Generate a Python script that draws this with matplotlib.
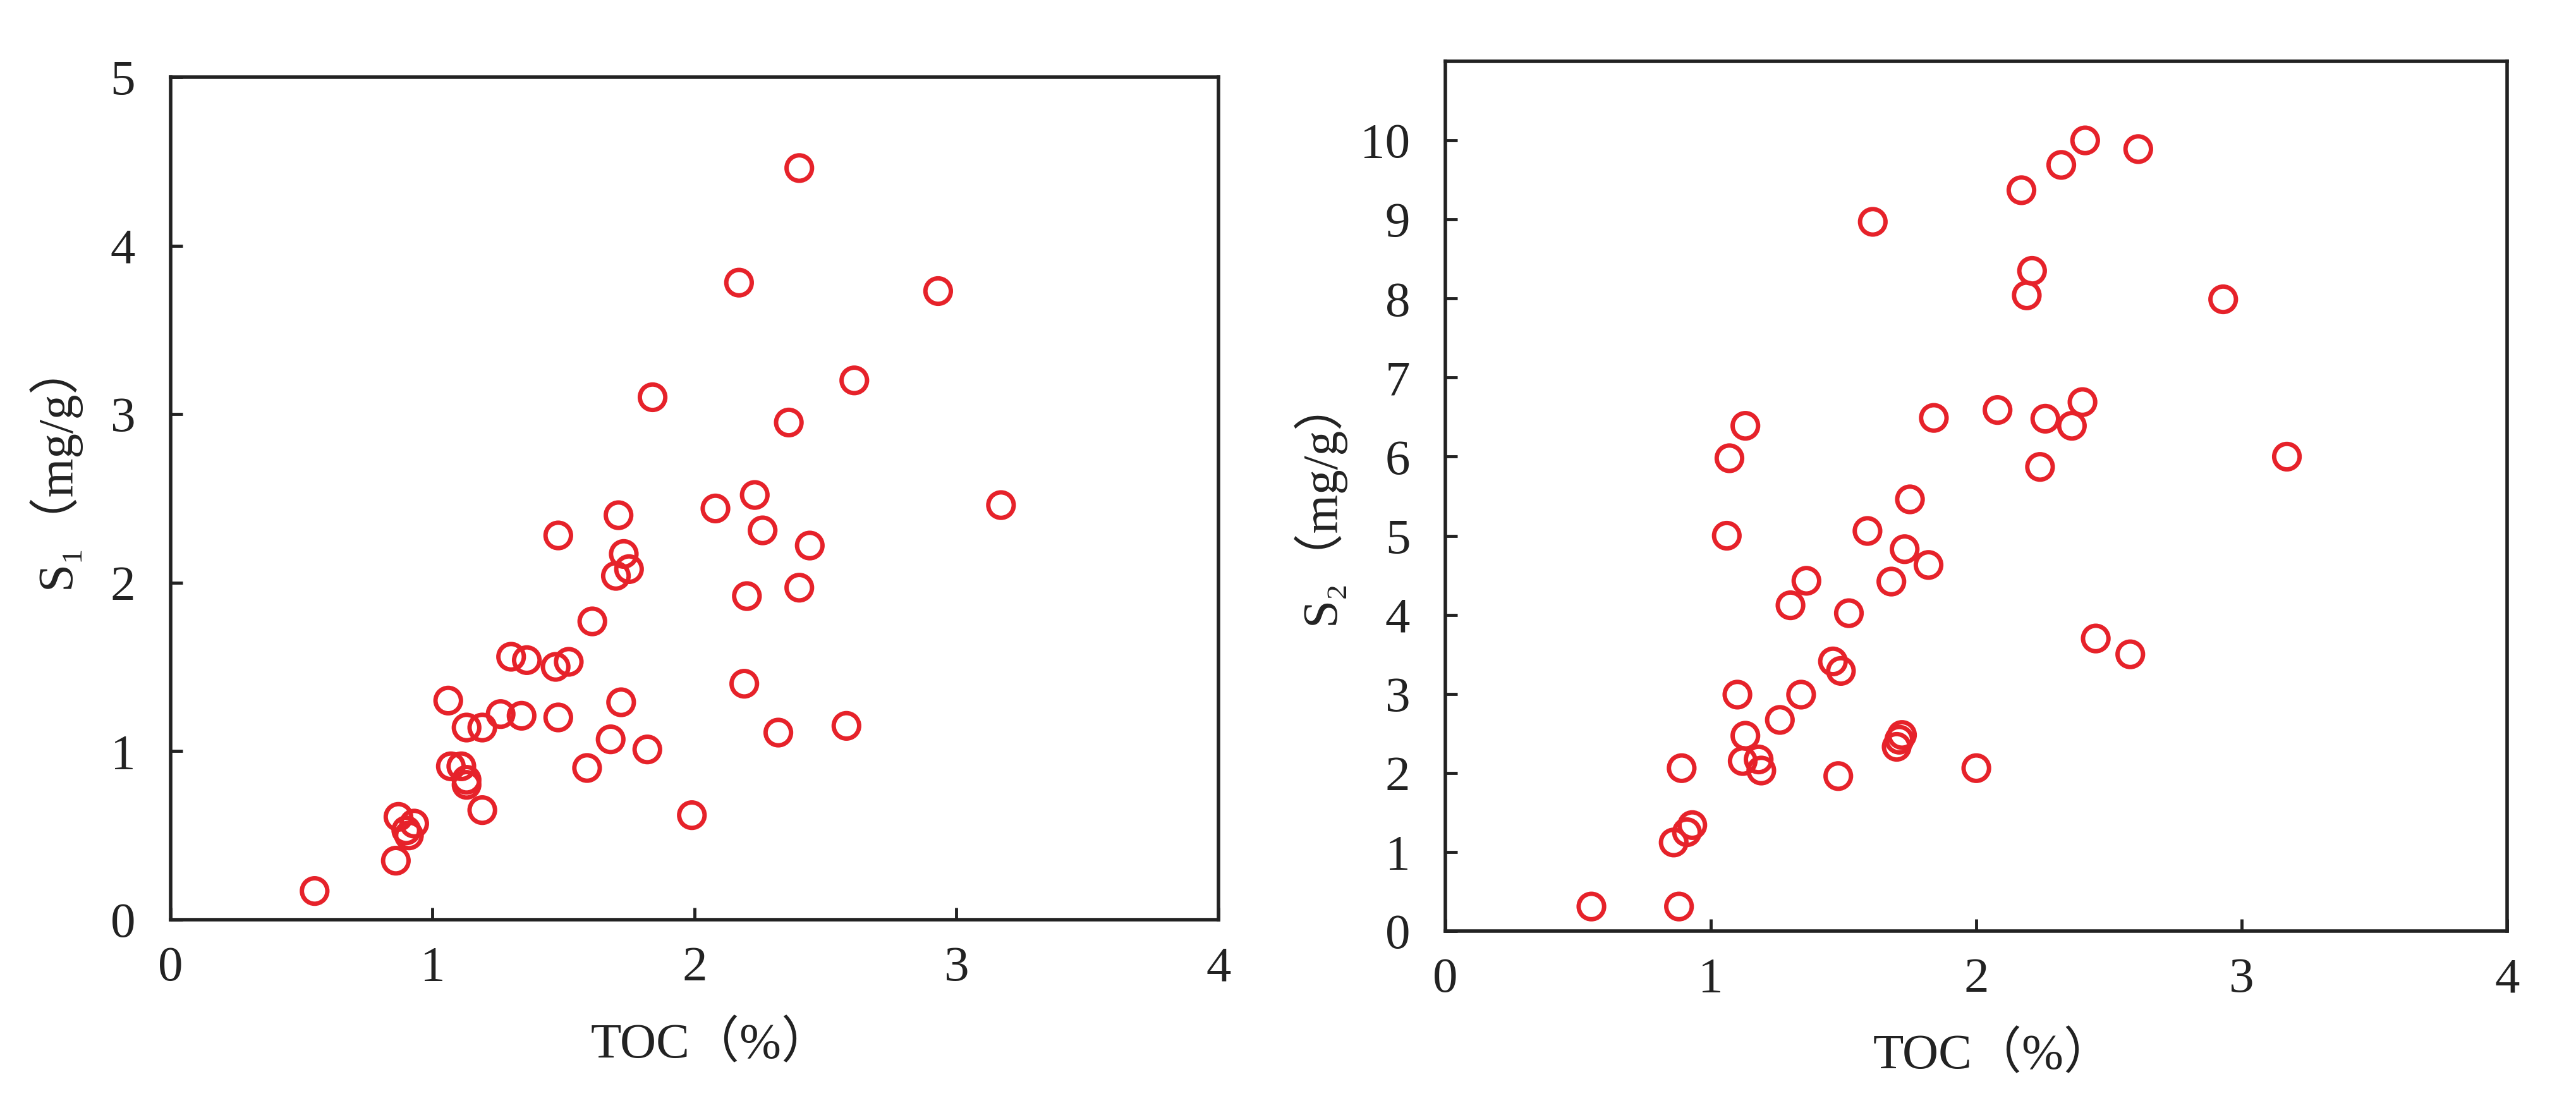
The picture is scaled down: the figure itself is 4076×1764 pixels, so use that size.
import matplotlib
matplotlib.use("Agg")
import matplotlib.pyplot as plt

# TOC (%) and S1 (mg/g), left panel
toc_s1 = [2.40, 2.17, 2.93, 2.61, 1.84, 2.36, 2.23, 2.08, 3.17, 2.26,
          1.71, 1.48, 2.44, 1.73, 1.75, 1.70, 2.20, 2.40, 1.61, 1.30,
          1.36, 1.47, 1.52, 2.19, 1.06, 1.72, 1.26, 1.34, 1.48, 1.13,
          1.19, 1.68, 2.32, 2.58, 1.82, 1.07, 1.11, 1.59, 1.13, 1.13,
          1.19, 1.99, 0.87, 0.93, 0.90, 0.91, 0.86, 0.55]
s1 = [4.46, 3.78, 3.73, 3.20, 3.10, 2.95, 2.52, 2.44, 2.46, 2.31,
      2.40, 2.28, 2.22, 2.17, 2.08, 2.04, 1.92, 1.97, 1.77, 1.56,
      1.54, 1.50, 1.53, 1.40, 1.30, 1.29, 1.22, 1.21, 1.20, 1.14,
      1.14, 1.07, 1.11, 1.15, 1.01, 0.91, 0.91, 0.90, 0.83, 0.80,
      0.65, 0.62, 0.61, 0.57, 0.53, 0.50, 0.35, 0.17]

# TOC (%) and S2 (mg/g), right panel
toc_s2 = [2.41, 2.61, 2.32, 2.17, 1.61, 2.21, 2.19, 2.93, 2.40, 2.08,
          2.26, 1.84, 2.36, 1.13, 1.07, 3.17, 2.24, 1.75, 1.06, 1.59,
          1.73, 1.82, 1.36, 1.68, 1.30, 1.52, 2.45, 2.58, 1.46, 1.49,
          1.10, 1.34, 1.26, 1.13, 1.72, 1.71, 1.70, 1.12, 1.18, 1.19,
          0.89, 2.00, 1.48, 0.93, 0.91, 0.86, 0.55, 0.88]
s2 = [10.0, 9.89, 9.69, 9.37, 8.97, 8.35, 8.04, 7.99, 6.69, 6.59,
      6.48, 6.49, 6.39, 6.39, 5.98, 6.00, 5.87, 5.46, 5.00, 5.06,
      4.83, 4.63, 4.43, 4.42, 4.12, 4.02, 3.70, 3.50, 3.41, 3.29,
      2.99, 2.99, 2.67, 2.47, 2.48, 2.42, 2.33, 2.15, 2.17, 2.03,
      2.06, 2.06, 1.96, 1.34, 1.25, 1.12, 0.31, 0.31]

x_ticks = [0, 1, 2, 3, 4]
s1_ticks = [0, 1, 2, 3, 4, 5]
s2_ticks = [0, 1, 2, 3, 4, 5, 6, 7, 8, 9, 10]

fonts = ["Liberation Serif", "DejaVu Serif", "Noto Sans CJK SC"]
plt.rcParams["font.family"] = fonts
plt.rcParams["font.size"] = 57

red = "#e6222a"
ink = "#222222"

fig = plt.figure(figsize=(40.76, 17.64), dpi=100)
ax1 = fig.add_axes([0.0662, 0.1752, 0.4068, 0.7557])
ax2 = fig.add_axes([0.5611, 0.1650, 0.4122, 0.7800])

panels = [
    (ax1, toc_s1, s1, s1_ticks, 5, "S₁（mg/g）", -0.086, 0.54, -0.120),
    (ax2, toc_s2, s2, s2_ticks, 11, "S₂（mg/g）", -0.095, 0.495, -0.116),
]

for ax, xs, ys, yt, ytop, ylab, lx, ly, xly in panels:
    ax.scatter(xs, ys, s=29 ** 2, facecolors="none", edgecolors=red,
               linewidths=5, clip_on=False, zorder=3)
    ax.set_xlim(0, 4)
    ax.set_ylim(0, ytop)
    ax.set_xticks(x_ticks)
    ax.set_yticks(yt)
    for sp in ax.spines.values():
        sp.set_linewidth(4)
        sp.set_color(ink)
    ax.tick_params(direction="in", length=14, width=3.5, color=ink,
                   labelcolor=ink, labelsize=57)
    ax.tick_params(axis="y", pad=40)
    ax.tick_params(axis="x", pad=30)
    ax.set_xlabel("TOC（%）", color=ink, fontsize=57)
    ax.set_ylabel(ylab, color=ink, fontsize=57)
    ax.xaxis.set_label_coords(0.516, xly)
    ax.yaxis.set_label_coords(lx, ly)

fig.savefig("out.png", dpi=100, facecolor="white")
